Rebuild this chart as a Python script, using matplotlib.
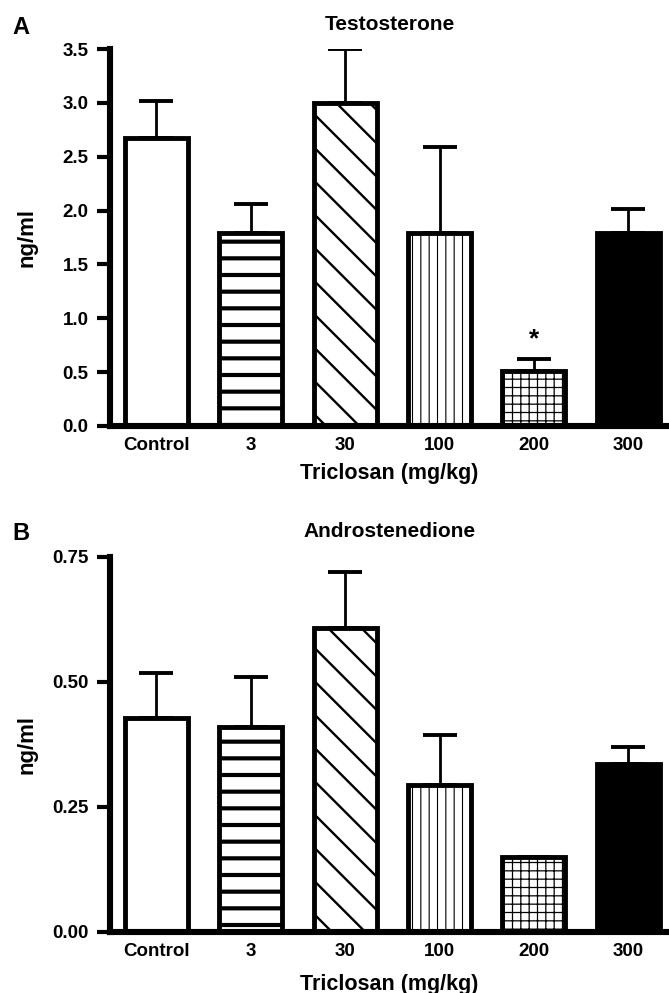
import matplotlib
matplotlib.use("Agg")
import matplotlib.pyplot as plt
import numpy as np

plt.rcParams['font.family'] = ['Liberation Sans', 'DejaVu Sans']
plt.rcParams['font.weight'] = 'bold'

groups = ["Control", "3", "30", "100", "200", "300"]

testo_mean = [2.67, 1.79, 3.00, 1.79, 0.51, 1.79]
testo_sem = [0.35, 0.27, 0.50, 0.80, 0.115, 0.22]

andro_mean = [0.427, 0.41, 0.607, 0.293, 0.15, 0.335]
andro_sem = [0.09, 0.10, 0.113, 0.10, 0.0, 0.035]

hatches = [None, '-', '\\', '||', '++', None]
hatch_lw = [1.0, 3.0, 1.7, 0.8, 0.9, 1.0]
faces = ['white', 'white', 'white', 'white', 'white', 'black']

W, H = 669, 993


def draw_panel(ax, mean, sem, ymax, yticks, fmt, title, star=None):
    x = np.arange(len(groups))
    for i in range(len(groups)):
        with plt.rc_context({'hatch.linewidth': hatch_lw[i]}):
            b = ax.bar(x[i], mean[i], width=0.667, color=faces[i], edgecolor='black',
                       linewidth=3.5, hatch=hatches[i], zorder=2)
        if hasattr(b[0], 'set_hatch_linewidth'):
            b[0].set_hatch_linewidth(hatch_lw[i])
    ax.errorbar(x, mean, yerr=[np.zeros(len(mean)), sem], fmt='none', ecolor='black',
                elinewidth=2.0, capsize=12, capthick=2.8, zorder=3)
    if star is not None:
        ax.annotate('*', (x[star], mean[star] + sem[star]), xytext=(0, 5),
                    textcoords='offset points', ha='center', va='bottom',
                    fontsize=19, fontweight='bold')
    ax.set_xlim(-0.49, 5.43)
    ax.set_ylim(0, ymax)
    ax.set_yticks(yticks)
    ax.set_yticklabels([fmt.format(v) for v in yticks])
    ax.set_xticks(x)
    ax.set_xticklabels(groups)
    ax.spines['top'].set_visible(False)
    ax.spines['right'].set_visible(False)
    ax.spines['left'].set_linewidth(4.4)
    ax.spines['bottom'].set_linewidth(4.4)
    ax.tick_params(axis='y', direction='out', length=9.5, width=3, labelsize=13.5, pad=6)
    ax.tick_params(axis='x', length=0, labelsize=13.5, pad=8)
    ax.set_title(title, fontsize=15, fontweight='bold', pad=14)
    ax.set_ylabel('ng/ml', fontsize=16, fontweight='bold')
    ax.set_xlabel('Triclosan (mg/kg)', fontsize=15.5, fontweight='bold')


fig = plt.figure(figsize=(W / 100, H / 100), dpi=100)

axA = fig.add_axes([110 / W, 1 - 426 / H, 559 / W, 377 / H])
draw_panel(axA, testo_mean, testo_sem, 3.5, [0, 0.5, 1.0, 1.5, 2.0, 2.5, 3.0, 3.5],
           '{:.1f}', 'Testosterone', star=4)
axA.yaxis.set_label_coords(-0.13, 0.5)
axA.xaxis.set_label_coords(0.5, -0.098)

axB = fig.add_axes([110 / W, 1 - 931.7 / H, 559 / W, 375 / H])
draw_panel(axB, andro_mean, andro_sem, 0.75, [0, 0.25, 0.5, 0.75], '{:.2f}', 'Androstenedione')
axB.yaxis.set_label_coords(-0.13, 0.5)
axB.xaxis.set_label_coords(0.5, -0.112)

fig.text(12 / W, 1 - 27 / H, 'A', fontsize=17, fontweight='bold', ha='left', va='center')
fig.text(12 / W, 1 - 533 / H, 'B', fontsize=17, fontweight='bold', ha='left', va='center')

fig.savefig('out.png', dpi=100)
